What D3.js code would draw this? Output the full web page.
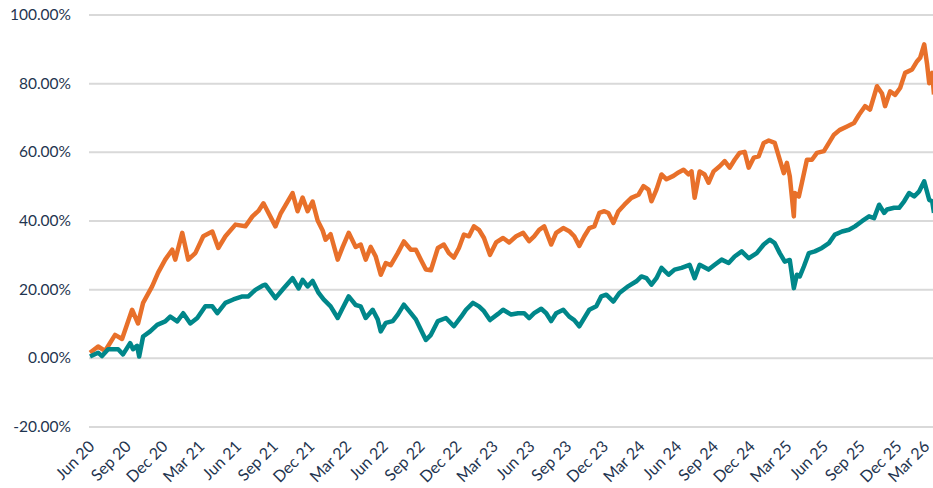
<!DOCTYPE html>
<html>
<head>
<meta charset="utf-8">
<script src="https://cdn.jsdelivr.net/npm/d3@7"></script>
<style>
  body { margin: 0; background: #fff; }
  text { font-family: Lato, "Open Sans", sans-serif; fill: #1f3550; }
</style>
</head>
<body>
<svg id="chart"></svg>
<script>
// quarter tick labels, one every 3 months starting Jun 2020
var tickLabels = ["Jun 20", "Sep 20", "Dec 20", "Mar 21", "Jun 21", "Sep 21", "Dec 21", "Mar 22",
    "Jun 22", "Sep 22", "Dec 22", "Mar 23", "Jun 23", "Sep 23", "Dec 23", "Mar 24",
    "Jun 24", "Sep 24", "Dec 24", "Mar 25", "Jun 25", "Sep 25", "Dec 25", "Mar 26"];
var yTicks = [-20, 0, 20, 40, 60, 80, 100];

// months since Jun 2020, and cumulative return in %
var orangeMonths = [0, 0.66, 1.23, 2.05, 2.62, 3.44, 3.93, 4.34, 5.08, 5.57, 6.15, 6.72, 6.97, 7.54, 8.03,
    8.61, 9.26, 10.0, 10.49, 11.07, 11.89, 12.7, 13.28, 13.77, 14.18, 15.16, 15.57, 16.56, 16.97, 17.38,
    17.79, 18.2, 18.61, 19.02, 19.26, 19.67, 20.25, 20.66, 21.15, 21.72, 22.13, 22.54, 22.95, 23.36, 23.77,
    24.18, 24.59, 25.16, 25.66, 26.23, 26.64, 27.05, 27.46, 27.87, 28.44, 28.93, 29.34, 29.75, 30.16, 30.57,
    30.98, 31.39, 31.8, 32.21, 32.7, 33.2, 33.77, 34.26, 34.84, 35.41, 35.9, 36.31, 36.72, 37.13, 37.7,
    38.11, 38.69, 39.18, 39.59, 40.0, 40.41, 40.82, 41.23, 41.64, 42.05, 42.38, 42.79, 43.2, 43.69, 44.26,
    44.84, 45.25, 45.66, 45.9, 46.31, 46.72, 47.13, 47.7, 48.11, 48.52, 48.93, 49.18, 49.43, 49.84, 50.25,
    50.57, 50.98, 51.48, 51.89, 52.3, 52.7, 53.11, 53.52, 53.85, 54.26, 54.67, 55.08, 55.49, 55.98, 56.31,
    56.72, 56.97, 57.21, 57.54, 57.62, 57.95, 58.2, 58.61, 59.02, 59.43, 60.0, 60.41, 60.82, 61.31, 61.89,
    62.46, 62.87, 63.36, 63.77, 64.34, 64.75, 65.0, 65.41, 65.82, 66.23, 66.64, 67.21, 67.62, 67.87, 68.2,
    68.44, 68.61, 68.85, 69.0];
var orangeValues = [1.5, 3.3, 2, 6.7, 5.5, 14, 10, 16, 20.8, 24.8, 28.6, 31.5, 28.6, 36.4, 28.6,
    30.5, 35.4, 36.8, 32, 35.4, 38.8, 38.3, 41.2, 42.8, 45, 38.3, 41.9, 48, 42.7, 46.7,
    42.7, 45.5, 40, 37.1, 34.4, 36, 28.6, 32.3, 36.4, 32.3, 33, 28.6, 32.3, 29.5, 24.2,
    27.6, 27, 30.5, 33.9, 31.5, 31.5, 28.6, 25.7, 25.5, 32, 33, 30.5, 29.2, 32, 35.9,
    35.4, 38.3, 37.3, 34.9, 30, 33.6, 34.9, 33.6, 35.4, 36.4, 34, 35.4, 37.3, 38.3, 33,
    36.4, 37.8, 36.9, 35.4, 32.6, 35.4, 37.8, 38.3, 42.2, 42.7, 42.2, 39.3, 42.7, 44.6, 46.6,
    47.5, 50, 49, 45.6, 49, 53.4, 52, 53, 54, 54.8, 53.4, 54.3, 46.6, 54.3, 53.4,
    51, 54.3, 55.8, 57.3, 55.4, 57.7, 59.7, 60, 55.4, 58.3, 58.7, 62.6, 63.3, 62.6, 58.7,
    53.8, 56.8, 52.9, 41.2, 48, 47, 51, 57.7, 57.7, 59.7, 60.2, 62.6, 65, 66.4, 67.4,
    68.4, 70.8, 73.3, 72.3, 79.1, 77, 73.3, 77.6, 76.6, 78.6, 83, 84, 86.4, 87.4, 91.3,
    85.4, 80, 83, 76.7];

var tealMonths = [0, 0.66, 0.98, 1.48, 2.3, 2.7, 3.28, 3.52, 3.85, 4.02, 4.34, 4.92, 5.49, 6.15, 6.56,
    7.13, 7.62, 8.2, 8.77, 9.43, 10.0, 10.41, 11.07, 11.72, 12.46, 12.95, 13.52, 14.1, 14.34, 15.16,
    15.82, 16.56, 17.05, 17.38, 17.79, 18.2, 18.69, 19.1, 19.67, 20.25, 20.66, 21.15, 21.72, 22.13, 22.54,
    23.11, 23.52, 23.77, 24.18, 24.75, 25.16, 25.66, 26.23, 26.64, 27.05, 27.46, 27.87, 28.44, 29.1, 29.75,
    30.33, 30.74, 31.31, 31.8, 32.21, 32.7, 33.36, 33.77, 34.43, 35.0, 35.49, 35.9, 36.31, 36.89, 37.3,
    37.7, 38.11, 38.69, 39.18, 39.59, 40.0, 40.41, 40.82, 41.39, 41.8, 42.21, 42.79, 43.28, 44.02, 44.67,
    45.08, 45.49, 45.9, 46.31, 46.72, 47.3, 47.79, 48.36, 49.02, 49.43, 49.84, 50.57, 51.07, 51.64, 52.21,
    52.7, 53.28, 53.85, 54.51, 55.08, 55.57, 55.98, 56.39, 56.8, 57.21, 57.54, 57.79, 58.03, 58.36, 58.77,
    59.26, 59.84, 60.41, 60.9, 61.48, 62.05, 62.54, 63.11, 63.69, 64.1, 64.51, 64.92, 65.16, 65.74, 66.15,
    66.56, 66.97, 67.38, 67.79, 68.2, 68.61, 68.85, 69.0];
var tealValues = [0.4, 1.5, 0.5, 2.5, 2.5, 1, 4.3, 2.5, 3.5, 0.4, 6.2, 7.7, 9.6, 10.6, 12,
    10.6, 13, 10, 11.6, 15, 15, 13, 16, 17, 17.9, 17.9, 19.8, 21, 21.3, 17.4,
    20.2, 23.2, 20.2, 22.7, 20.8, 22.4, 18.9, 17, 15, 11.6, 14.5, 17.9, 15.4, 15, 11.6,
    14, 11.2, 7.7, 10.2, 10.7, 12.6, 15.5, 13, 11.2, 8.2, 5.2, 6.7, 10.7, 11.6, 9.2,
    11.9, 14, 16, 15, 13.6, 11, 12.8, 14, 12.6, 13, 13, 11.6, 13, 14.3, 13,
    10.7, 13, 14, 12, 11, 9.2, 11.6, 14, 15, 17.9, 18.4, 16.4, 18.9, 20.9, 22.3,
    23.7, 23.2, 21.3, 23.2, 26.2, 24.2, 25.7, 26.2, 27.1, 23.2, 27.1, 25.7, 27.1, 28.6, 27.6,
    29.5, 31, 29, 30.5, 33, 34.4, 33.4, 30.5, 28, 28.5, 20.3, 24.2, 23.7, 26.6, 30.5,
    31, 32, 33.4, 35.9, 36.8, 37.3, 38.3, 39.8, 41.2, 40.7, 44.6, 42.2, 43.2, 43.7, 43.7,
    45.6, 48, 47, 48.5, 51.4, 46, 45.6, 42.2];

var totalWidth = 933;
var totalHeight = 488;
var margin = { top: 14.5, right: 0, bottom: 61.5, left: 89 };
var width = totalWidth - margin.left - margin.right;
var height = totalHeight - margin.top - margin.bottom;

var svg = d3.select("#chart")
    .attr("width", totalWidth)
    .attr("height", totalHeight);

var g = svg.append("g")
    .attr("transform", "translate(" + margin.left + "," + margin.top + ")");

var x = d3.scaleLinear().domain([0, 69]).range([1, width + 1]);
var y = d3.scaleLinear().domain([-20, 100]).range([height, 0]);

// y axis with gridlines
var yAxis = g.append("g")
    .attr("class", "axis axis--y")
    .call(d3.axisLeft(y).tickValues(yTicks).tickSize(-width).tickPadding(18)
        .tickFormat(function (d) { return d.toFixed(2) + "%"; }));
yAxis.select(".domain").remove();
yAxis.selectAll("line").attr("stroke", "#d9d9d9").attr("stroke-width", 2);
yAxis.selectAll("text").style("font-size", "15.5px").attr("fill", "#1f3550");

// x axis labels, rotated
var xAxis = g.append("g")
    .attr("class", "axis axis--x")
    .attr("transform", "translate(0," + height + ")")
    .call(d3.axisBottom(x).tickValues(d3.range(0, 70, 3)).tickSize(0)
        .tickFormat(function (d, i) { return tickLabels[i]; }));
xAxis.select(".domain").remove();
xAxis.selectAll("text")
    .style("font-size", "16px")
    .attr("fill", "#1f3550")
    .attr("text-anchor", "end")
    .attr("x", 0).attr("y", 0).attr("dy", null)
    .attr("transform", function (d, i) {
        // last label would run past the right edge, pull it in a bit
        var dx = i == tickLabels.length - 1 ? -4 : 5;
        return "translate(" + dx + ",21) rotate(-45)";
    });

var line = d3.line()
    .x(function (d) { return x(d[0]); })
    .y(function (d) { return y(d[1]); });

var orangeData = orangeMonths.map(function (m, i) { return [m, orangeValues[i]]; });
var tealData = tealMonths.map(function (m, i) { return [m, tealValues[i]]; });

g.append("path")
    .datum(orangeData)
    .attr("fill", "none")
    .attr("stroke", "#e8702a")
    .attr("stroke-width", 4.5)
    .attr("stroke-linejoin", "round")
    .attr("d", line);

g.append("path")
    .datum(tealData)
    .attr("fill", "none")
    .attr("stroke", "#00878a")
    .attr("stroke-width", 4.5)
    .attr("stroke-linejoin", "round")
    .attr("d", line);
</script>
</body>
</html>
